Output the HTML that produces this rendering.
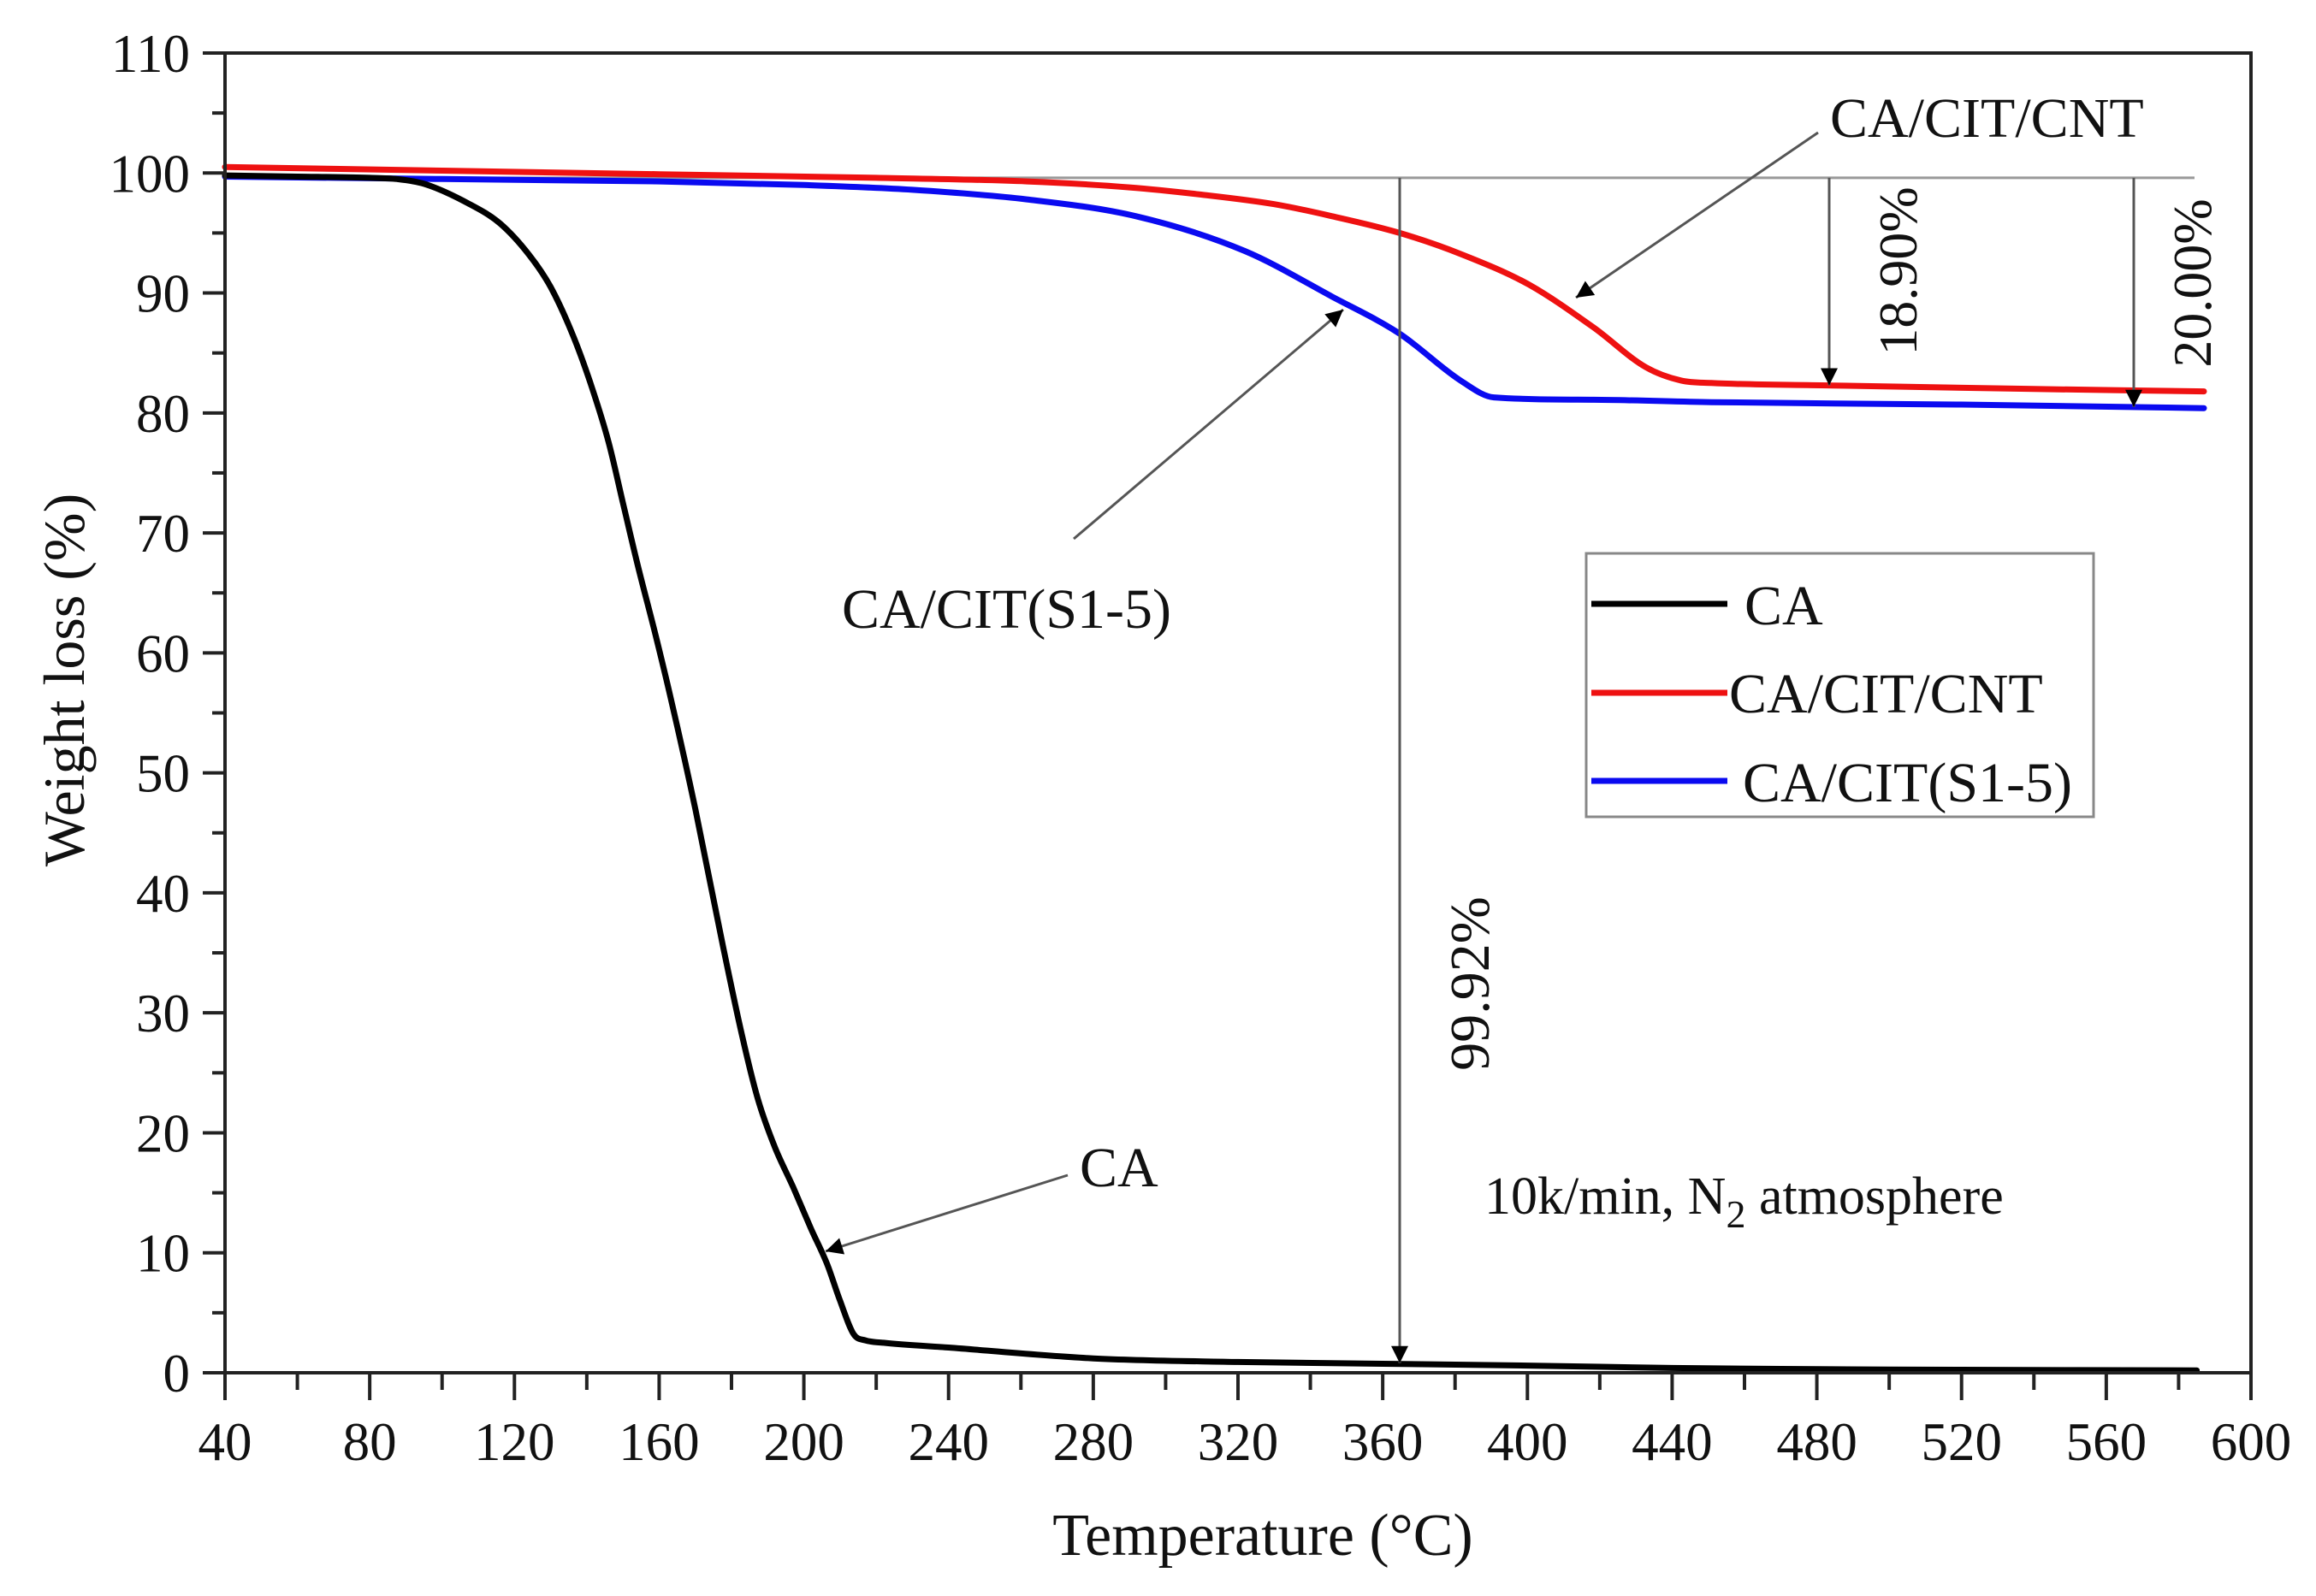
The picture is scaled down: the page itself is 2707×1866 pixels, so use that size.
<!DOCTYPE html>
<html><head><meta charset="utf-8"><style>
html,body{margin:0;padding:0;background:#fff;}
svg{display:block;}
text{font-family:"Liberation Serif","Times New Roman",serif;fill:#111;}
</style></head><body>
<svg id="chart" xmlns="http://www.w3.org/2000/svg" width="2707" height="1866" viewBox="0 0 2707 1866">
<defs>
<marker id="ah" viewBox="0 0 10 10" refX="10" refY="5" markerWidth="34" markerHeight="20" markerUnits="userSpaceOnUse" orient="auto"><path d="M0,0 L10,5 L0,10 z" fill="#000"/></marker>
</defs>
<rect width="2707" height="1866" fill="#fff"/>
<g id="ref-lines"></g>
<g id="series"></g>
<g id="axes"></g>
<g id="annots"></g>
</svg>
<script>
const caT = [40,60,80,87.5,95,107,116,124,130,136,141,146,150,154,159,163,170,177.6,183,187.3,192,197,202,206.5,210,213.8,217,222,240,280,320,360,400,440,480,520,585];
const caW = [99.8,99.7,99.6,99.5,99.1,97.5,95.8,93.2,90.5,86.6,82.5,77.6,72.5,67.4,61.5,56.5,47,35.6,28,22.8,18.8,15.5,12,9,6,3.2,2.7,2.5,2.1,1.2,0.9,0.75,0.6,0.4,0.3,0.25,0.2];
const cntT = [40,100,160,220,261.6,290,309.8,330,346,364.7,382,400.4,418.4,432.8,442.5,450.8,483,540,587];
const cntW = [100.5,100.2,99.9,99.6,99.3,98.8,98.2,97.4,96.4,95.0,93.2,90.7,87.1,83.8,82.7,82.5,82.3,82.0,81.8];
const citT = [40,100,160,200,230,261.6,291.8,321.9,346,364.7,382,390.7,418.4,450.8,520,587];
const citW = [99.7,99.5,99.3,99.0,98.6,97.8,96.4,93.5,89.7,86.6,82.6,81.3,81.1,80.9,80.7,80.4];
const xTicks = [40,80,120,160,200,240,280,320,360,400,440,480,520,560,600];
const yTicks = [0,10,20,30,40,50,60,70,80,90,100,110];

const X0=263, X1=2631, Y0=1605, Y1=62;
const xs = t => X0 + (t-40)/(600-40)*(X1-X0);
const ys = w => Y0 - w/110*(Y0-Y1);
const NS="http://www.w3.org/2000/svg";
function mk(tag, attrs, parent){const e=document.createElementNS(NS,tag);for(const k in attrs)e.setAttribute(k,attrs[k]);parent.appendChild(e);return e;}
const axes=document.getElementById('axes'), series=document.getElementById('series'), refs=document.getElementById('ref-lines'), ann=document.getElementById('annots');

const frame=mk('rect',{x:X0,y:Y1,width:X1-X0,height:Y0-Y1,fill:'none',stroke:'#222','stroke-width':4},axes);



for(let i=0;i<xTicks.length;i++){
  const x=xs(xTicks[i]);
  const t=mk('line',{x1:x,y1:Y0,x2:x,y2:Y0+32,stroke:'#222','stroke-width':4},axes);
  
  
  if(i<xTicks.length-1){
    const xm=xs(xTicks[i]+20);
    const m=mk('line',{x1:xm,y1:Y0,x2:xm,y2:Y0+20,stroke:'#222','stroke-width':4},axes);
    
    
  }
  const l=mk('text',{x:x,y:1707,'font-size':63,'text-anchor':'middle'},axes);
  l.textContent=xTicks[i];
  
  
}
for(let i=0;i<yTicks.length;i++){
  const y=ys(yTicks[i]);
  const t=mk('line',{x1:X0-26,y1:y,x2:X0,y2:y,stroke:'#222','stroke-width':4},axes);
  
  
  if(i<yTicks.length-1){
    const ym=ys(yTicks[i]+5);
    const m=mk('line',{x1:X0-15,y1:ym,x2:X0,y2:ym,stroke:'#222','stroke-width':4},axes);
    
    
  }
  const l=mk('text',{x:222,y:y+22,'font-size':63,'text-anchor':'end'},axes);
  l.textContent=yTicks[i];
  
  
}
const xt=mk('text',{x:1476,y:1818,'font-size':70,'text-anchor':'middle'},axes);
xt.textContent='Temperature (°C)';


const yt=mk('text',{x:0,y:0,'font-size':68,'text-anchor':'middle',transform:'translate(98,795) rotate(-90)'},axes);
yt.textContent='Weight loss (%)';



const hl=mk('line',{x1:X0,y1:ys(99.6),x2:2565,y2:ys(99.6),stroke:'#999','stroke-width':3},refs);



function smoothPath(P){
  const n=P.length, d=[], m=[];
  for(let i=0;i<n-1;i++) d.push((P[i+1][1]-P[i][1])/(P[i+1][0]-P[i][0]));
  m[0]=d[0]; m[n-1]=d[n-2];
  for(let i=1;i<n-1;i++){ m[i]=(d[i-1]*d[i]<=0)?0:(d[i-1]+d[i])/2; }
  for(let i=0;i<n-1;i++){ if(d[i]===0){m[i]=0;m[i+1]=0;continue;} const a=m[i]/d[i], b=m[i+1]/d[i], s=a*a+b*b; if(s>9){const t=3/Math.sqrt(s); m[i]=t*a*d[i]; m[i+1]=t*b*d[i];} }
  let s='M'+P[0][0].toFixed(1)+','+P[0][1].toFixed(1);
  for(let i=0;i<n-1;i++){
    const h=(P[i+1][0]-P[i][0])/3;
    s+='C'+(P[i][0]+h).toFixed(1)+','+(P[i][1]+m[i]*h).toFixed(1)+' '+(P[i+1][0]-h).toFixed(1)+','+(P[i+1][1]-m[i+1]*h).toFixed(1)+' '+P[i+1][0].toFixed(1)+','+P[i+1][1].toFixed(1);
  }
  return s;
}
function curve(T,W,color,name){
  const P=T.map((t,i)=>[xs(t),ys(W[i])]);
  const p=mk('path',{d:smoothPath(P),fill:'none',stroke:color,'stroke-width':7,'stroke-linejoin':'round','stroke-linecap':'round'},series);
  
  
}
curve(citT,citW,'#0a0af0','series-ca-cit-s1-5');
curve(cntT,cntW,'#ee1111','series-ca-cit-cnt');
curve(caT,caW,'#000','series-ca');

function arrow(x1,y1,x2,y2,name){
  const a=mk('line',{x1:x1,y1:y1,x2:x2,y2:y2,stroke:'#555','stroke-width':3,'marker-end':'url(#ah)'},ann);
  
  
}
arrow(xs(364.7),ys(99.6),xs(364.7),ys(0.8),'arrow-99-92');
arrow(2138,ys(99.6),2138,ys(82.3),'arrow-18-90');
arrow(2494,ys(99.6),2494,ys(80.5),'arrow-20-00');
</script>
<svg style="position:absolute;left:0;top:0" width="2707" height="1866">
<defs><marker id="ah2" viewBox="0 0 10 10" refX="10" refY="5" markerWidth="34" markerHeight="20" markerUnits="userSpaceOnUse" orient="auto"><path d="M0,0 L10,5 L0,10 z" fill="#000"/></marker></defs>
<line x1="2125" y1="155" x2="1842" y2="348" stroke="#555" stroke-width="3" marker-end="url(#ah2)"/>
<line x1="1255" y1="630" x2="1570" y2="362" stroke="#555" stroke-width="3" marker-end="url(#ah2)"/>
<line x1="1248" y1="1374" x2="965" y2="1463" stroke="#555" stroke-width="3" marker-end="url(#ah2)"/>
<text x="2139" y="160" font-size="66" style="font-family:'Liberation Serif',serif">CA/CIT/CNT</text>
<text x="984" y="734" font-size="66" style="font-family:'Liberation Serif',serif">CA/CIT(S1-5)</text>
<text x="1262" y="1387" font-size="66" style="font-family:'Liberation Serif',serif">CA</text>
<text transform="translate(2240,317) rotate(-90)" text-anchor="middle" font-size="64" style="font-family:'Liberation Serif',serif">18.90%</text>
<text transform="translate(2584,331) rotate(-90)" text-anchor="middle" font-size="64" style="font-family:'Liberation Serif',serif">20.00%</text>
<text transform="translate(1740,1150) rotate(-90)" text-anchor="middle" font-size="66" style="font-family:'Liberation Serif',serif">99.92%</text>
<text x="1735" y="1419" font-size="62" style="font-family:'Liberation Serif',serif">10k/min, N<tspan font-size="46" dy="16">2</tspan><tspan dy="-16"> atmosphere</tspan></text>
<g>
<rect x="1854" y="647" width="593" height="308" fill="#fff" stroke="#888" stroke-width="3"/>
<line x1="1860" y1="706" x2="2019" y2="706" stroke="#000" stroke-width="7"/>
<line x1="1860" y1="810" x2="2019" y2="810" stroke="#ee1111" stroke-width="7"/>
<line x1="1860" y1="913" x2="2019" y2="913" stroke="#0a0af0" stroke-width="7"/>
<text x="2039" y="730" font-size="66" style="font-family:'Liberation Serif',serif">CA</text>
<text x="2021" y="833" font-size="66" style="font-family:'Liberation Serif',serif">CA/CIT/CNT</text>
<text x="2037" y="937" font-size="66" style="font-family:'Liberation Serif',serif">CA/CIT(S1-5)</text>
</g>
</svg>
</body></html>
